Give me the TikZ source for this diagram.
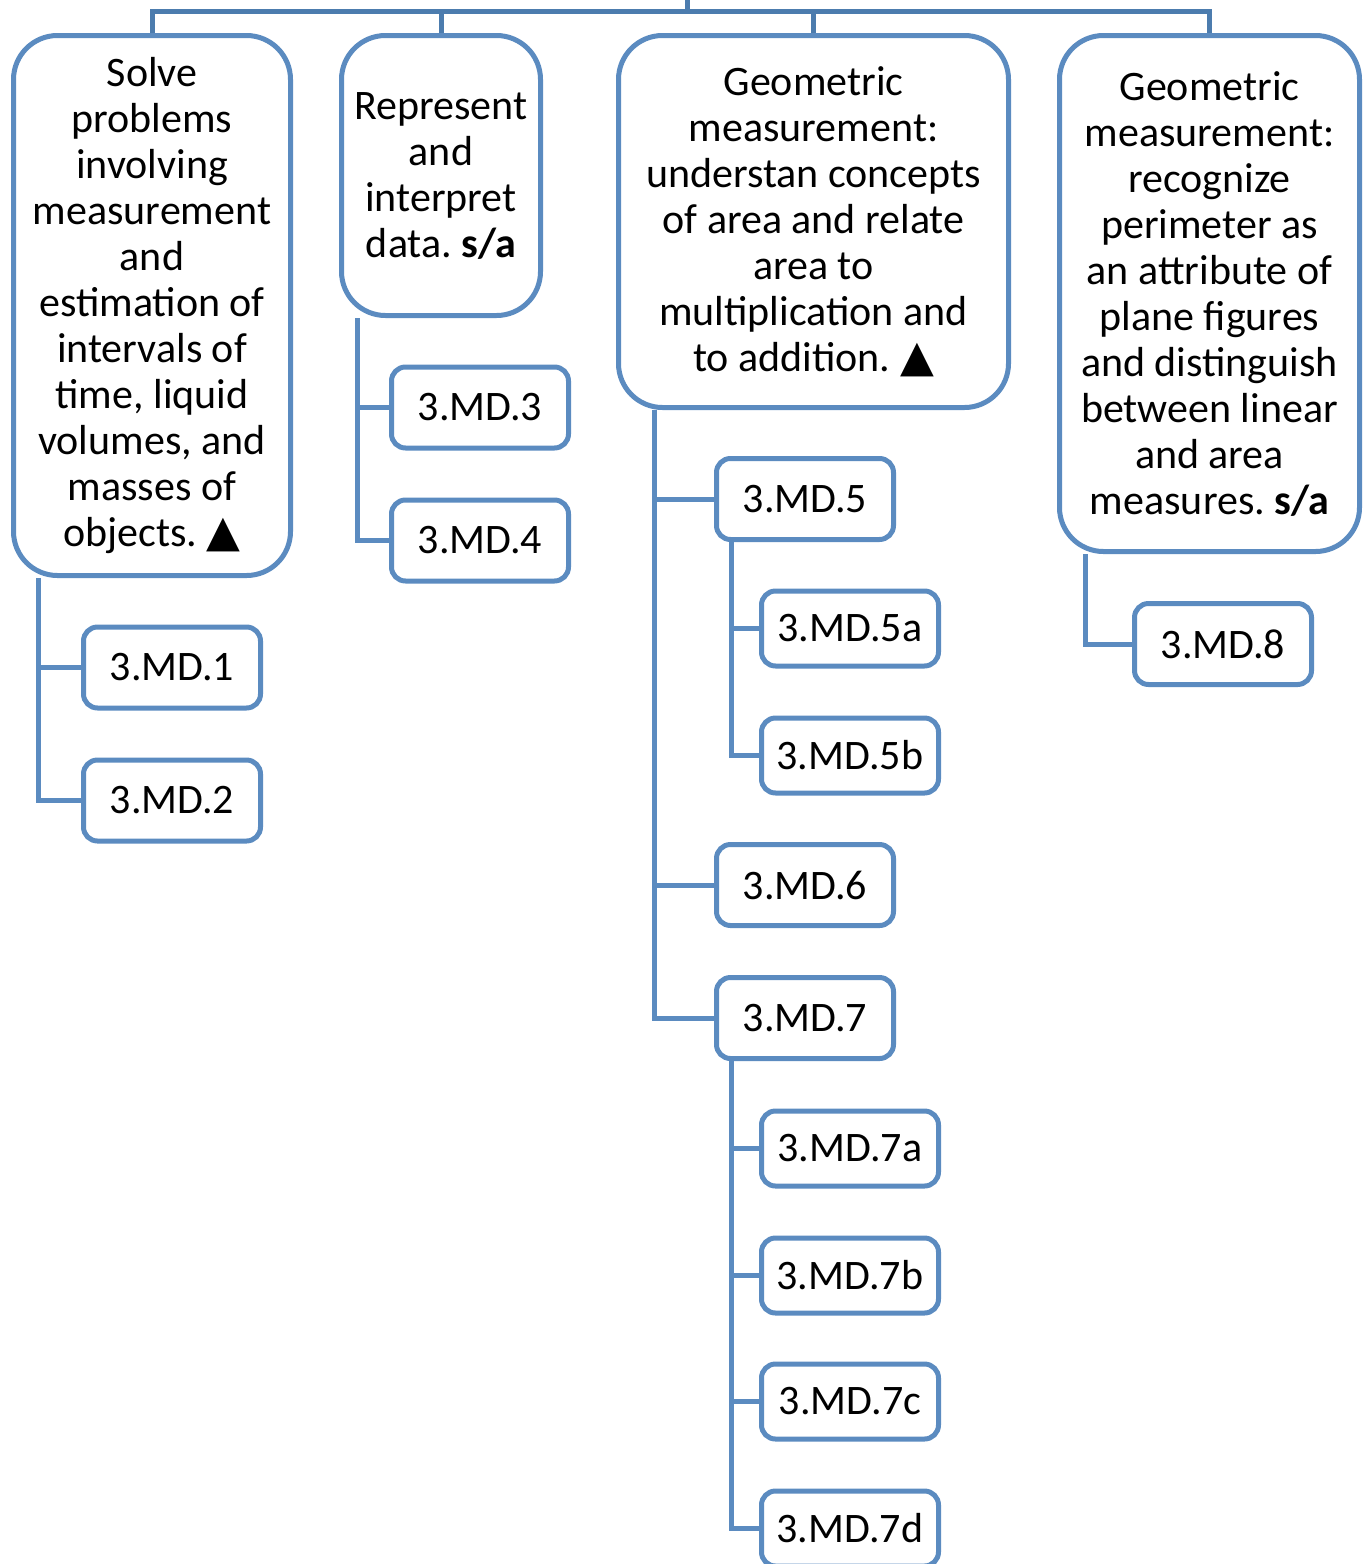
\documentclass[tikz,border=0pt]{standalone}
\usepackage{fontspec}
\setmainfont{Carlito}
\newfontfamily\symfont{DejaVu Sans}
\definecolor{boxblue}{RGB}{91,139,192}
\definecolor{topblue}{RGB}{76,124,174}
\newcommand{\tri}{{\symfont\fontsize{22}{23}\selectfont ▲}}
\frenchspacing
\begin{document}
\begin{tikzpicture}[x=0.5pt,y=-0.5pt,
  every node/.style={font=\fontsize{21}{23}\selectfont},
  bigbox/.style={draw=boxblue, line width=2.5pt, rounded corners=22pt, align=center, inner sep=0pt},
  smallbox/.style={draw=boxblue, line width=2.5pt, rounded corners=7pt, inner sep=0pt, minimum width=88.5pt, minimum height=40.5pt},
  subbox/.style={smallbox, minimum height=37.5pt},
  conn/.style={draw=boxblue, line width=2.5pt},
  topconn/.style={draw=topblue, line width=2.5pt}]
\useasboundingbox (0,0) rectangle (1368,1564);
% big boxes
\node[bigbox, minimum width=138.5pt, minimum height=270pt] (A) at (152,305.5)
 {Solve\\problems\\involving\\measurement\\and\\estimation of\\intervals of\\time, liquid\\volumes, and\\masses of\\objects. \tri};
\node[bigbox, minimum width=99.5pt, minimum height=140pt] (B) at (441,175.5)
 {Represent\\and\\interpret\\data. \textbf{s/a}};
\node[bigbox, minimum width=195pt, minimum height=186pt] (C) at (813.5,221.5)
 {Geometric\\measurement:\\understan concepts\\of area and relate\\area to\\multiplication and\\to addition. \tri};
\node[bigbox, minimum width=150pt, minimum height=258pt] (D) at (1209.5,293.5)
 {Geometric\\measurement:\\recognize\\perimeter as\\an attribute of\\plane figures\\and distinguish\\between linear\\and area\\measures. \textbf{s/a}};
% small boxes
\node[smallbox] (md1) at (172,667.5) {3.MD.1};
\node[smallbox] (md2) at (172,800.5) {3.MD.2};
\node[smallbox] (md3) at (480,407.5) {3.MD.3};
\node[smallbox] (md4) at (480,540.5) {3.MD.4};
\node[smallbox] (md5) at (805,499) {3.MD.5};
\node[subbox] (md5a) at (850,628.5) {3.MD.5a};
\node[subbox] (md5b) at (850,755.5) {3.MD.5b};
\node[smallbox] (md6) at (805,885) {3.MD.6};
\node[smallbox] (md7) at (805,1018) {3.MD.7};
\node[subbox] (md7a) at (850,1148.5) {3.MD.7a};
\node[subbox] (md7b) at (850,1275.5) {3.MD.7b};
\node[subbox] (md7c) at (850,1401.5) {3.MD.7c};
\node[subbox] (md7d) at (850,1528.5) {3.MD.7d};
\node[smallbox] (md8) at (1223,644) {3.MD.8};
% top bus
\coordinate (root) at (687,-5);
\coordinate (bus) at (687,11);
\draw[topconn] (root) -- (bus);
\draw[topconn] (A.north) |- (D.north |- bus) -- (D.north);
\draw[topconn] (B.north) -- (B.north |- bus);
\draw[topconn] (C.north) -- (C.north |- bus);
% children connectors
\draw[conn] (A.south west) ++(27.5,0) |- (md1.west);
\draw[conn] (A.south west) ++(27.5,0) |- (md2.west);
\draw[conn] (B.south west) ++(18.5,0) |- (md3.west);
\draw[conn] (B.south west) ++(18.5,0) |- (md4.west);
\draw[conn] (C.south west) ++(38.5,0) |- (md5.west);
\draw[conn] (C.south west) ++(38.5,0) |- (md6.west);
\draw[conn] (C.south west) ++(38.5,0) |- (md7.west);
\draw[conn] (md5.south west) ++(17.5,0) |- (md5a.west);
\draw[conn] (md5.south west) ++(17.5,0) |- (md5b.west);
\draw[conn] (md7.south west) ++(17.5,0) |- (md7a.west);
\draw[conn] (md7.south west) ++(17.5,0) |- (md7b.west);
\draw[conn] (md7.south west) ++(17.5,0) |- (md7c.west);
\draw[conn] (md7.south west) ++(17.5,0) |- (md7d.west);
\draw[conn] (D.south west) ++(28.5,0) |- (md8.west);
\end{tikzpicture}
\end{document}
